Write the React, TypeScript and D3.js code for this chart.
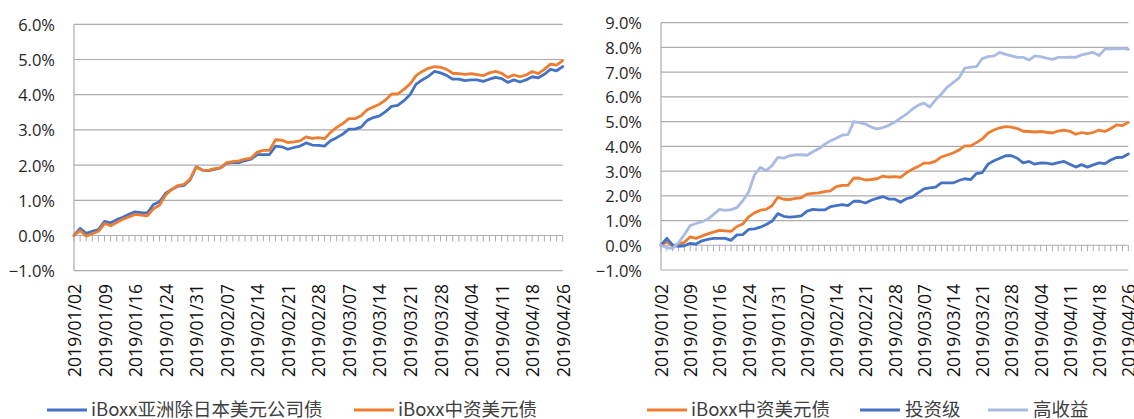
import React from 'react';
import * as d3 from 'd3';

// 交易日（每5个显示一个标签）
const dates = [
  '2019/01/02', '2019/01/03', '2019/01/04', '2019/01/07', '2019/01/08',
  '2019/01/09', '2019/01/10', '2019/01/11', '2019/01/14', '2019/01/15',
  '2019/01/16', '2019/01/17', '2019/01/18', '2019/01/22', '2019/01/23',
  '2019/01/24', '2019/01/25', '2019/01/28', '2019/01/29', '2019/01/30',
  '2019/01/31', '2019/02/01', '2019/02/04', '2019/02/05', '2019/02/06',
  '2019/02/07', '2019/02/08', '2019/02/11', '2019/02/12', '2019/02/13',
  '2019/02/14', '2019/02/15', '2019/02/18', '2019/02/19', '2019/02/20',
  '2019/02/21', '2019/02/22', '2019/02/25', '2019/02/26', '2019/02/27',
  '2019/02/28', '2019/03/01', '2019/03/04', '2019/03/05', '2019/03/06',
  '2019/03/07', '2019/03/08', '2019/03/11', '2019/03/12', '2019/03/13',
  '2019/03/14', '2019/03/15', '2019/03/18', '2019/03/19', '2019/03/20',
  '2019/03/21', '2019/03/22', '2019/03/25', '2019/03/26', '2019/03/27',
  '2019/03/28', '2019/03/29', '2019/04/01', '2019/04/02', '2019/04/03',
  '2019/04/04', '2019/04/05', '2019/04/08', '2019/04/09', '2019/04/10',
  '2019/04/11', '2019/04/12', '2019/04/15', '2019/04/16', '2019/04/17',
  '2019/04/18', '2019/04/22', '2019/04/23', '2019/04/24', '2019/04/25',
  '2019/04/26',
];

// 累计收益（%）
const asiaExJapan = [
  0.00, 0.20, 0.06, 0.12, 0.17, 0.40, 0.36, 0.45, 0.52, 0.60,
  0.67, 0.65, 0.64, 0.88, 0.96, 1.20, 1.31, 1.40, 1.42, 1.58,
  1.95, 1.86, 1.84, 1.88, 1.92, 2.05, 2.08, 2.07, 2.13, 2.17,
  2.30, 2.30, 2.30, 2.54, 2.52, 2.45, 2.50, 2.54, 2.63, 2.57,
  2.56, 2.54, 2.69, 2.78, 2.88, 3.02, 3.02, 3.08, 3.27, 3.35,
  3.40, 3.52, 3.67, 3.70, 3.83, 4.00, 4.30, 4.42, 4.52, 4.66,
  4.62, 4.55, 4.44, 4.44, 4.40, 4.42, 4.42, 4.38, 4.44, 4.49,
  4.46, 4.35, 4.42, 4.36, 4.42, 4.51, 4.48, 4.58, 4.72, 4.68,
  4.80,
];

const chinaUsd = [
  0.00, 0.14, -0.02, 0.05, 0.12, 0.34, 0.28, 0.37, 0.46, 0.53,
  0.60, 0.58, 0.56, 0.76, 0.86, 1.15, 1.31, 1.42, 1.45, 1.60,
  1.94, 1.86, 1.85, 1.90, 1.92, 2.07, 2.10, 2.12, 2.17, 2.20,
  2.37, 2.42, 2.42, 2.72, 2.71, 2.64, 2.66, 2.69, 2.80, 2.76,
  2.78, 2.75, 2.93, 3.07, 3.18, 3.32, 3.32, 3.40, 3.57, 3.65,
  3.73, 3.85, 4.02, 4.02, 4.15, 4.30, 4.54, 4.66, 4.75, 4.80,
  4.78, 4.72, 4.61, 4.60, 4.58, 4.60, 4.57, 4.54, 4.62, 4.66,
  4.61, 4.49, 4.56, 4.51, 4.56, 4.66, 4.60, 4.72, 4.87, 4.84,
  4.97,
];

const investmentGrade = [
  0.00, 0.28, 0.00, -0.04, -0.02, 0.08, 0.05, 0.18, 0.24, 0.28,
  0.28, 0.28, 0.20, 0.42, 0.43, 0.64, 0.66, 0.73, 0.84, 0.97,
  1.28, 1.17, 1.14, 1.16, 1.19, 1.38, 1.45, 1.43, 1.43, 1.56,
  1.60, 1.64, 1.60, 1.78, 1.78, 1.71, 1.82, 1.90, 1.97, 1.87,
  1.87, 1.74, 1.88, 1.95, 2.12, 2.28, 2.32, 2.35, 2.52, 2.52,
  2.52, 2.62, 2.69, 2.65, 2.90, 2.94, 3.28, 3.42, 3.52, 3.62,
  3.62, 3.52, 3.33, 3.39, 3.28, 3.33, 3.32, 3.28, 3.34, 3.39,
  3.28, 3.16, 3.26, 3.16, 3.25, 3.33, 3.30, 3.45, 3.55, 3.56,
  3.69,
];

const highYield = [
  0.00, -0.10, -0.12, 0.10, 0.43, 0.80, 0.88, 0.95, 1.05, 1.25,
  1.45, 1.41, 1.44, 1.52, 1.80, 2.15, 2.85, 3.15, 3.02, 3.22,
  3.55, 3.52, 3.62, 3.66, 3.66, 3.64, 3.78, 3.90, 4.08, 4.22,
  4.33, 4.45, 4.47, 5.00, 4.96, 4.90, 4.78, 4.71, 4.76, 4.85,
  4.98, 5.14, 5.30, 5.50, 5.66, 5.75, 5.59, 5.88, 6.12, 6.39,
  6.58, 6.76, 7.16, 7.20, 7.22, 7.55, 7.63, 7.66, 7.80, 7.72,
  7.66, 7.60, 7.60, 7.49, 7.66, 7.63, 7.57, 7.52, 7.60, 7.60,
  7.61, 7.60, 7.70, 7.75, 7.80, 7.67, 7.93, 7.94, 7.94, 7.96,
  7.92,
];

const leftTicks = [-1, 0, 1, 2, 3, 4, 5, 6];
const rightTicks = [-1, 0, 1, 2, 3, 4, 5, 6, 7, 8, 9];

const BLUE = '#4472C4';
const ORANGE = '#ED7D31';
const LIGHT = '#A9BBE3';
const GRID = '#adadad';
const AXIS_FONT = '"Open Sans", "DejaVu Sans", sans-serif';
const LEGEND_FONT = '"Noto Sans CJK SC", sans-serif';

type Series = { name: string; values: number[]; color: string };
type LegendPos = { line: number; text: number };

function LineChart(props: {
  x0: number; x1: number; yTop: number; yBottom: number;
  ticks: number[]; series: Series[]; legend: LegendPos[];
}) {
  const { x0, x1, yTop, yBottom, ticks, series, legend } = props;
  const x = d3.scalePoint<string>().domain(dates).range([x0, x1]);
  const y = d3.scaleLinear()
    .domain([ticks[0], ticks[ticks.length - 1]])
    .range([yBottom, yTop]);
  const line = d3.line<number>()
    .x((_, i) => x(dates[i]) as number)
    .y(d => y(d));
  const fmt = d3.format('.1f');
  const y0 = y(0);

  return (
    <g>
      {/* 网格线 */}
      {ticks.map(t => (
        <line key={'g' + t} x1={x0} x2={x1} y1={y(t)} y2={y(t)} stroke={GRID} strokeWidth={1.2} />
      ))}
      <line x1={x0} x2={x0} y1={yTop} y2={yBottom} stroke={GRID} strokeWidth={1.2} />
      {/* y轴标签 */}
      {ticks.map(t => (
        <text key={'t' + t} x={x0 - 19} y={y(t)} textAnchor="end" dominantBaseline="central"
          fontFamily={AXIS_FONT} fontSize={16.5} fill="#262626">
          {fmt(t) + '%'}
        </text>
      ))}
      {/* 0轴刻度 */}
      {dates.map(d => (
        <line key={'k' + d} x1={x(d)} x2={x(d)} y1={y0} y2={y0 + 6} stroke={GRID} strokeWidth={1} />
      ))}
      {/* 日期标签 */}
      {dates.filter((_, i) => i % 5 === 0).map(d => (
        <text key={'d' + d} transform={`translate(${x(d)},${284}) rotate(-90)`} textAnchor="end"
          dominantBaseline="central" fontFamily={AXIS_FONT} fontSize={17.5} fill="#111">
          {d}
        </text>
      ))}
      {/* 折线 */}
      {series.map(s => (
        <path key={s.name} d={line(s.values) || ''} fill="none" stroke={s.color}
          strokeWidth={2.8} strokeLinejoin="round" strokeLinecap="round" />
      ))}
      {/* 图例 */}
      {series.map((s, i) => (
        <g key={'l' + s.name}>
          <line x1={legend[i].line} x2={legend[i].line + 40} y1={410} y2={410} stroke={s.color} strokeWidth={2.8} />
          <text x={legend[i].text} y={408} dominantBaseline="central" fontFamily={LEGEND_FONT}
            fontSize={18.5} fill="#404040">
            {s.name}
          </text>
        </g>
      ))}
    </g>
  );
}

export default function App() {
  return (
    <svg width={1134} height={419} style={{ position: 'absolute', left: 0, top: 0, background: '#fff' }}>
      <LineChart
        x0={74} x1={562.7} yTop={24.3} yBottom={270.7} ticks={leftTicks}
        series={[
          { name: 'iBoxx亚洲除日本美元公司债', values: asiaExJapan, color: BLUE },
          { name: 'iBoxx中资美元债', values: chinaUsd, color: ORANGE },
        ]}
        legend={[{ line: 47, text: 91 }, { line: 354, text: 398 }]}
      />
      <LineChart
        x0={661} x1={1128.3} yTop={22.7} yBottom={270} ticks={rightTicks}
        series={[
          { name: 'iBoxx中资美元债', values: chinaUsd, color: ORANGE },
          { name: '投资级', values: investmentGrade, color: BLUE },
          { name: '高收益', values: highYield, color: LIGHT },
        ]}
        legend={[{ line: 647, text: 691 }, { line: 860, text: 905 }, { line: 988, text: 1033 }]}
      />
    </svg>
  );
}
